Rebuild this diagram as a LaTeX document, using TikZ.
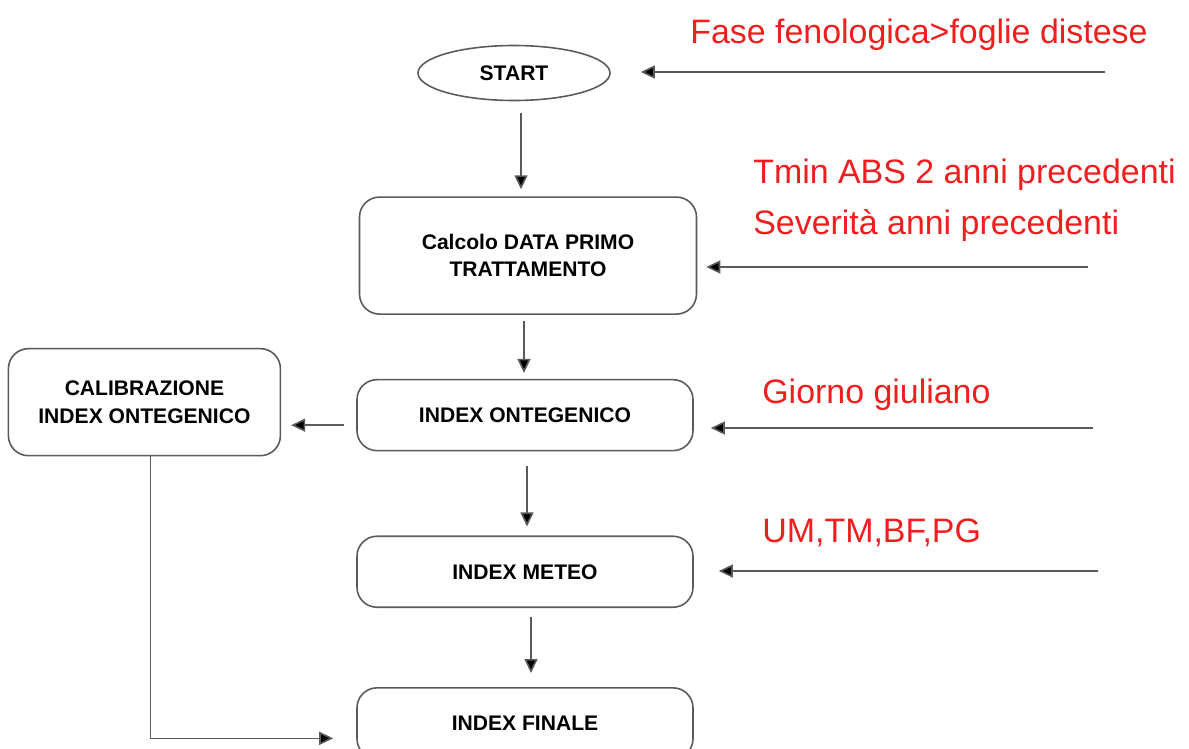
\documentclass[tikz,border=0pt]{standalone}
\usepackage{fontspec}
\setmainfont{Liberation Sans}
\usepackage{xcolor}
\usepackage{tikz}
\usetikzlibrary{shapes.geometric, arrows.meta, positioning}
\definecolor{inred}{RGB}{240,30,30}
\definecolor{edgegrey}{RGB}{90,90,90}
\tikzstyle{startstop} = [ellipse, minimum width=3.84cm, minimum height=1.1cm, text centered, draw=edgegrey, line width=0.9pt, font=\fontsize{12}{15.5}\selectfont\bfseries]
\tikzstyle{process} = [rectangle, rounded corners=0.4cm, minimum width=6.72cm, minimum height=1.42cm, align=center, draw=edgegrey, line width=0.9pt, font=\fontsize{12}{15.5}\selectfont\bfseries]
\tikzstyle{input} = [inred, anchor=base west, inner sep=0pt, align=left, font=\fontsize{19.3}{28.5}\selectfont]
\tikzstyle{arrow} = [draw=edgegrey, line width=0.9pt, -{Triangle[length=0.28cm, width=0.26cm, fill=black]}]

\begin{document}
\begin{tikzpicture}[node distance=1.5cm]
    \useasboundingbox (0,0) rectangle (23.78,-14.98);
    % Define blocks
    \node (start) [startstop] at (10.28,-1.46) {START};
    \node (calc) [process, minimum width=6.74cm, minimum height=2.34cm, below=1.9cm of start, xshift=0.28cm] {Calcolo DATA PRIMO\\TRATTAMENTO};
    \node (onto) [process, below=1.28cm of calc, xshift=-0.06cm] {INDEX ONTEGENICO};
    \node (calib) [process, minimum width=5.44cm, minimum height=2.14cm, left=1.5cm of onto, yshift=0.26cm] {CALIBRAZIONE\\INDEX ONTEGENICO};
    \node (meteo) [process, below=1.68cm of onto] {INDEX METEO};
    \node (final) [process, below=1.58cm of meteo] {INDEX FINALE};

    % Inputs
    \node (fase) [input] at (13.8,-0.86) {Fase fenologica>foglie distese};
    \node (tmin) [input] at (15.06,-4.68) {Tmin ABS 2 anni precedenti\\Severità anni precedenti};
    \node (giorno) [input] at (15.24,-8.06) {Giorno giuliano};
    \node (meteoin) [input] at (15.24,-10.84) {UM,TM,BF,PG};
    \coordinate (in1) at (22.1,-1.44);
    \coordinate (in2) at (21.76,-5.34);
    \coordinate (in3) at (21.86,-8.56);
    \coordinate (in4) at (21.96,-11.42);

    % Draw arrows
    \draw [arrow, shorten <=0.24cm, shorten >=0.14cm] ([xshift=0.14cm]start.south) -- ([xshift=0.14cm]start.south |- calc.north);
    \draw [arrow, shorten <=0.12cm, shorten >=0.12cm] ([xshift=-0.08cm]calc.south) -- ([xshift=-0.08cm]calc.south |- onto.north);
    \draw [arrow, shorten <=0.3cm, shorten >=0.18cm] ([xshift=0.04cm]onto.south) -- ([xshift=0.04cm]onto.south |- meteo.north);
    \draw [arrow, shorten <=0.18cm, shorten >=0.28cm] ([xshift=0.12cm]meteo.south) -- ([xshift=0.12cm]meteo.south |- final.north);
    \draw [arrow, shorten <=0.24cm, shorten >=0.2cm] ([yshift=-0.2cm]onto.west) -- ([yshift=-0.2cm]onto.west -| calib.east);
    \draw [arrow, shorten >=0.46cm] ([xshift=0.12cm]calib.south) |- ([yshift=-0.3cm]final.west);
    \draw [arrow, shorten >=0.6cm] (in1) -- (in1 -| start.east);
    \draw [arrow, shorten >=0.18cm] (in2) -- (in2 -| calc.east);
    \draw [arrow, shorten >=0.34cm] (in3) -- (in3 -| onto.east);
    \draw [arrow, shorten >=0.5cm] (in4) -- (in4 -| meteo.east);
\end{tikzpicture}
\end{document}
